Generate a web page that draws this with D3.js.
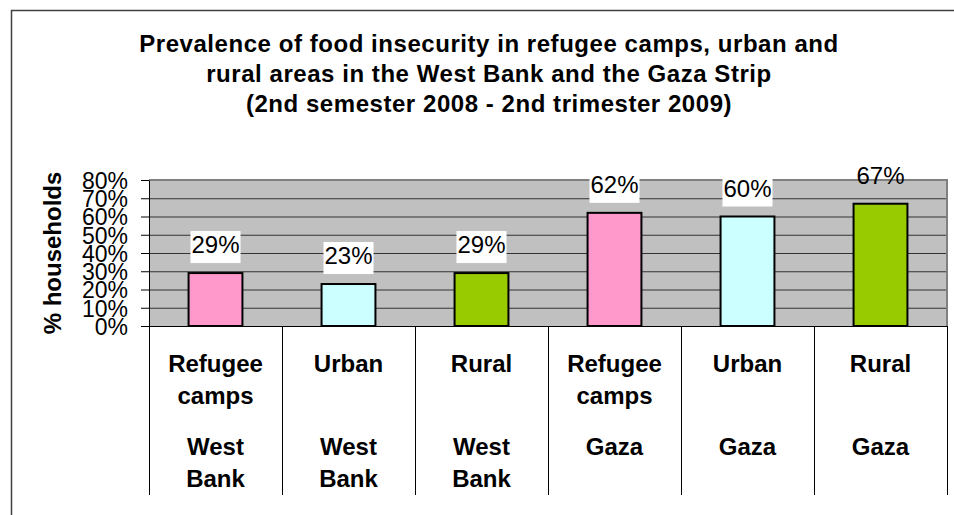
<!DOCTYPE html>
<html>
<head>
<meta charset="utf-8">
<script src="https://cdn.jsdelivr.net/npm/d3@7"></script>
<style>
  body { margin: 0; background: #fff; }
  text { font-family: "Liberation Sans", Arial, sans-serif; fill: #000; }
</style>
</head>
<body>
<div id="chart"></div>
<script>
// chart values
const areas = ["Refugee camps", "Urban", "Rural", "Refugee camps", "Urban", "Rural"];
const regions = ["West Bank", "West Bank", "West Bank", "Gaza", "Gaza", "Gaza"];
const values = [0.29, 0.23, 0.29, 0.62, 0.60, 0.67];
const yTicks = [0, 0.1, 0.2, 0.3, 0.4, 0.5, 0.6, 0.7, 0.8];
const titleLines = [
  "Prevalence of food insecurity in refugee camps, urban and",
  "rural areas in the West Bank and the Gaza Strip",
  "(2nd semester 2008 - 2nd trimester 2009)"
];

// colour per area type
const areaColor = { "Refugee camps": "#FF99CC", "Urban": "#CCFFFF", "Rural": "#99CC00" };

const W = 954, H = 515;
const plot = { left: 149, right: 947, top: 180, bottom: 326 };

const svg = d3.select("#chart")
  .append("svg")
  .attr("width", W)
  .attr("height", H);

// outer chart frame (only left and top edges are in view)
svg.append("path")
  .attr("d", `M11.5,${H} V10.5 H${W}`)
  .attr("fill", "none")
  .attr("stroke", "#404040")
  .attr("stroke-width", 1.5);

// title
svg.append("g")
  .selectAll("text")
  .data(titleLines)
  .enter()
  .append("text")
  .attr("x", 489)
  .attr("y", (d, i) => 52 + i * 30)
  .attr("text-anchor", "middle")
  .style("font-size", "24px")
  .style("font-weight", "bold")
  .style("letter-spacing", "0.55px")
  .text(d => d);

// scales
const x = d3.scaleBand()
  .domain(d3.range(values.length))
  .range([plot.left, plot.right]);

const xEdges = d3.scaleLinear()
  .domain([0, values.length])
  .range([plot.left, plot.right]);

const y = d3.scaleLinear()
  .domain([0, 0.8])
  .range([plot.bottom, plot.top]);

// plot area
svg.append("rect")
  .attr("x", plot.left)
  .attr("y", plot.top)
  .attr("width", plot.right - plot.left)
  .attr("height", plot.bottom - plot.top)
  .attr("fill", "#C0C0C0");

// gridlines
const grid = svg.append("g")
  .attr("transform", `translate(${plot.left},0)`)
  .call(d3.axisLeft(y).tickValues(yTicks.slice(1)).tickSize(-(plot.right - plot.left)).tickFormat(""));
grid.select(".domain").remove();
grid.selectAll("line").attr("stroke", "#333").attr("stroke-width", 1);

// plot border (grey)
svg.append("path")
  .attr("d", `M${plot.left},${plot.top} H${plot.right} V${plot.bottom}`)
  .attr("fill", "none")
  .attr("stroke", "#808080")
  .attr("stroke-width", 2);

// bars
const barW = x.bandwidth() * 0.405;
svg.append("g")
  .selectAll("rect")
  .data(values)
  .enter()
  .append("rect")
  .attr("x", (d, i) => x(i) + (x.bandwidth() - barW) / 2)
  .attr("y", d => y(d))
  .attr("width", barW)
  .attr("height", d => y(0) - y(d))
  .attr("fill", (d, i) => areaColor[areas[i]])
  .attr("stroke", "#000")
  .attr("stroke-width", 2);

// y axis
const yAxis = svg.append("g")
  .attr("transform", `translate(${plot.left},0)`)
  .call(d3.axisLeft(y).tickValues(yTicks).tickFormat(d3.format(".0%")).tickSize(8).tickSizeOuter(0).tickPadding(13));
yAxis.selectAll("text")
  .style("font-size", "23px")
  .attr("dy", "0.36em");
yAxis.selectAll("line, path").attr("stroke", "#000");

// category axis: ticks at the band edges
const xAxis = svg.append("g")
  .attr("transform", `translate(0,${plot.bottom})`)
  .call(d3.axisBottom(xEdges).tickValues(d3.range(values.length + 1)).tickSize(169).tickSizeOuter(0).tickFormat(""));
xAxis.selectAll("line, path").attr("stroke", "#000");

// category labels
const cat = svg.append("g")
  .selectAll("g")
  .data(values)
  .enter()
  .append("g")
  .attr("transform", (d, i) => `translate(${x(i) + x.bandwidth() / 2},0)`);

cat.each(function (d, i) {
  const g = d3.select(this);
  areas[i].split(" ").forEach((w, k) => {
    g.append("text").attr("y", 372 + k * 31.5).text(w);
  });
  regions[i].split(" ").forEach((w, k) => {
    g.append("text").attr("y", 455 + k * 31.5).text(w);
  });
});
cat.selectAll("text")
  .attr("text-anchor", "middle")
  .style("font-size", "24px")
  .style("font-weight", "bold");

// y axis title
svg.append("text")
  .attr("transform", `translate(61,253) rotate(-90)`)
  .attr("text-anchor", "middle")
  .style("font-size", "24px")
  .style("font-weight", "bold")
  .text("% households");

// value labels with white boxes
const labels = svg.append("g")
  .selectAll("g")
  .data(values)
  .enter()
  .append("g")
  .attr("transform", (d, i) => `translate(${x(i) + x.bandwidth() / 2},${y(d) - 20})`);

labels.append("rect").attr("class", "lbl-bg");
labels.append("text")
  .attr("text-anchor", "middle")
  .style("font-size", "24px")
  .text(d => d3.format(".0%")(d));

labels.each(function (d) {
  const g = d3.select(this);
  const w = g.select("text").node().getComputedTextLength();
  const boxTop = y(d) - 20 - 22;
  // Excel drops the fill of a label that sits mostly above the plot area
  const inside = boxTop + 16 > plot.top;
  g.select("rect")
    .attr("x", -w / 2 - 1)
    .attr("y", -22)
    .attr("width", w + 2)
    .attr("height", 32)
    .attr("fill", inside ? "#fff" : "none");
});
</script>
</body>
</html>
